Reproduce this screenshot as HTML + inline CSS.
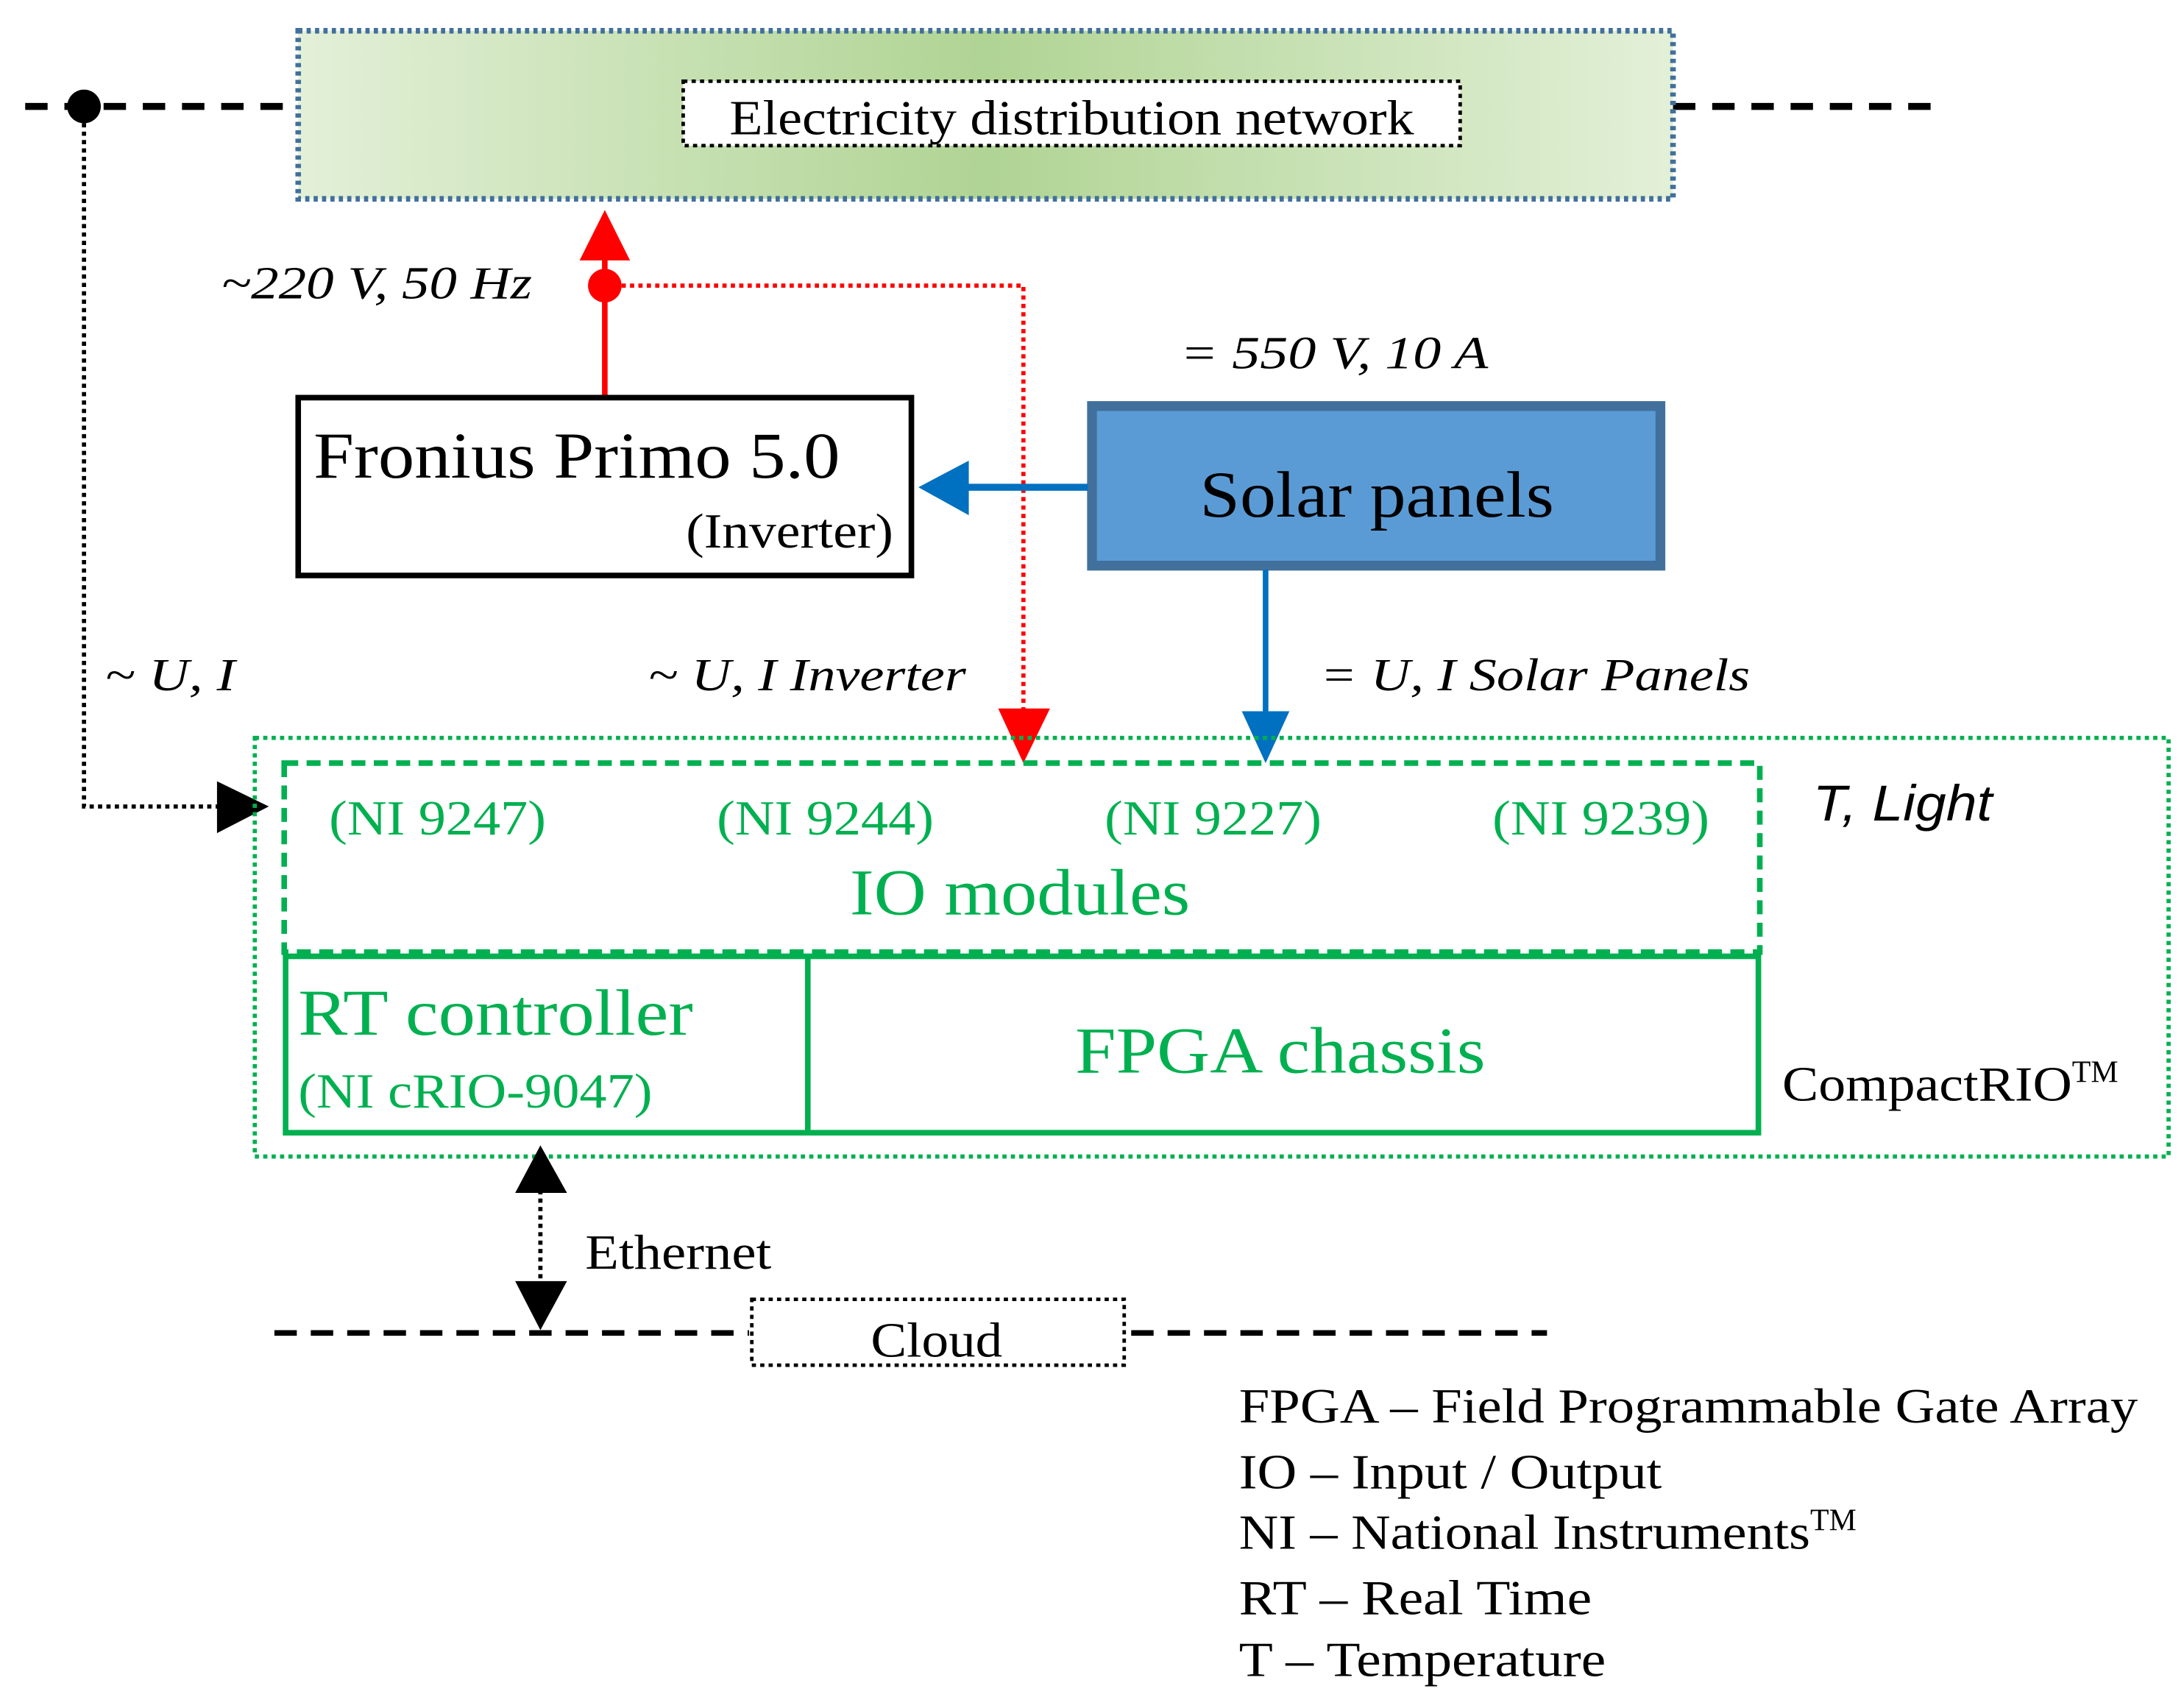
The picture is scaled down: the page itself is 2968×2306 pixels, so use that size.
<!DOCTYPE html>
<html><head><meta charset="utf-8"><style>
html,body{margin:0;padding:0;background:#fff;}
svg{display:block;}
text{font-family:"Liberation Serif",serif;}
</style></head><body>
<svg width="2968" height="2306" viewBox="0 0 1560 1212" preserveAspectRatio="none" xmlns="http://www.w3.org/2000/svg">
<defs>
<linearGradient id="g" x1="0" x2="1" y1="0" y2="0">
<stop offset="0" stop-color="#e3f0d8"/><stop offset="0.5" stop-color="#b0d494"/><stop offset="1" stop-color="#e3f0d8"/>
</linearGradient>
</defs>
<line x1="18" y1="76" x2="213" y2="76" stroke="#000" stroke-width="5" stroke-dasharray="16,12"/>
<line x1="1195" y1="76" x2="1390" y2="76" stroke="#000" stroke-width="5" stroke-dasharray="16,12"/>
<rect x="213" y="22" width="982" height="120" fill="url(#g)" stroke="#41709c" stroke-width="4" stroke-dasharray="3,3"/>
<rect x="488" y="58" width="555" height="46" fill="#fff" stroke="#000" stroke-width="2.5" stroke-dasharray="3,3"/>
<text x="521" y="96" font-size="35" textLength="489" lengthAdjust="spacingAndGlyphs">Electricity distribution network</text>
<circle cx="60" cy="76" r="12" fill="#000"/>
<polyline points="60,76 60,576 160,576" fill="none" stroke="#000" stroke-width="3" stroke-dasharray="3,3"/>
<polygon points="155,558 192,576 155,595" fill="#000"/>
<line x1="432" y1="283" x2="432" y2="182" stroke="#f00" stroke-width="4"/>
<polygon points="414,186 432,150 450,186" fill="#f00"/>
<circle cx="432" cy="204" r="12" fill="#f00"/>
<polyline points="432,204 731,204 731,510" fill="none" stroke="#f00" stroke-width="3" stroke-dasharray="3,3"/>
<polygon points="713,506 750,506 731,545" fill="#f00"/>
<text x="158" y="213" font-size="33" font-style="italic" textLength="222" lengthAdjust="spacingAndGlyphs">~220 V, 50 Hz</text>
<rect x="213" y="284" width="438" height="127" fill="#fff" stroke="#000" stroke-width="4"/>
<text x="224" y="341" font-size="47" textLength="376" lengthAdjust="spacingAndGlyphs">Fronius Primo 5.0</text>
<text x="490" y="391" font-size="35" textLength="148" lengthAdjust="spacingAndGlyphs">(Inverter)</text>
<rect x="780" y="290" width="406" height="114" fill="#5b9bd5" stroke="#41709c" stroke-width="7"/>
<text x="857" y="369" font-size="47" textLength="253" lengthAdjust="spacingAndGlyphs">Solar panels</text>
<line x1="777" y1="348" x2="688" y2="348" stroke="#0070c0" stroke-width="5"/>
<polygon points="692,329 656,348 692,368" fill="#0070c0"/>
<text x="843" y="263" font-size="33" font-style="italic" textLength="220" lengthAdjust="spacingAndGlyphs">= 550 V, 10 A</text>
<line x1="904" y1="407" x2="904" y2="512" stroke="#0070c0" stroke-width="4"/>
<polygon points="887,508 921,508 904,545" fill="#0070c0"/>
<text x="75" y="493" font-size="33" font-style="italic" textLength="93" lengthAdjust="spacingAndGlyphs">~ U, I</text>
<text x="463" y="493" font-size="33" font-style="italic" textLength="227" lengthAdjust="spacingAndGlyphs">~ U, I Inverter</text>
<text x="943" y="493" font-size="33" font-style="italic" textLength="307" lengthAdjust="spacingAndGlyphs">= U, I Solar Panels</text>
<rect x="182" y="527" width="1367" height="299" fill="none" stroke="#00b050" stroke-width="3" stroke-dasharray="3,3"/>
<rect x="203" y="545" width="1054" height="135" fill="none" stroke="#00b050" stroke-width="4" stroke-dasharray="10,6"/>
<g fill="#00b050" font-size="35">
<text x="235" y="596" textLength="155" lengthAdjust="spacingAndGlyphs">(NI 9247)</text>
<text x="512" y="596" textLength="155" lengthAdjust="spacingAndGlyphs">(NI 9244)</text>
<text x="789" y="596" textLength="155" lengthAdjust="spacingAndGlyphs">(NI 9227)</text>
<text x="1066" y="596" textLength="155" lengthAdjust="spacingAndGlyphs">(NI 9239)</text>
<text x="607" y="653" font-size="47" textLength="243" lengthAdjust="spacingAndGlyphs">IO modules</text>
<text x="213" y="739" font-size="47" textLength="282" lengthAdjust="spacingAndGlyphs">RT controller</text>
<text x="213" y="791" textLength="253" lengthAdjust="spacingAndGlyphs">(NI cRIO-9047)</text>
<text x="768" y="766" font-size="47" textLength="293" lengthAdjust="spacingAndGlyphs">FPGA chassis</text>
</g>
<rect x="204" y="683" width="1052" height="126" fill="none" stroke="#00b050" stroke-width="4"/>
<line x1="577" y1="683" x2="577" y2="809" stroke="#00b050" stroke-width="4"/>
<text x="1295" y="586" font-size="36" font-style="italic" style="font-family:'Liberation Sans',sans-serif" textLength="128" lengthAdjust="spacingAndGlyphs">T, Light</text>
<text x="1273" y="786" font-size="35"><tspan textLength="207" lengthAdjust="spacingAndGlyphs">CompactRIO</tspan><tspan font-size="22" dy="-13">TM</tspan></text>
<line x1="386" y1="850" x2="386" y2="918" stroke="#000" stroke-width="3" stroke-dasharray="3,3"/>
<polygon points="368,852 386,818 405,852" fill="#000"/>
<polygon points="368,915 405,915 386,950" fill="#000"/>
<text x="418" y="906" font-size="35" textLength="133" lengthAdjust="spacingAndGlyphs">Ethernet</text>
<line x1="196" y1="952" x2="535" y2="952" stroke="#000" stroke-width="4" stroke-dasharray="16,10"/>
<line x1="808" y1="952" x2="1105" y2="952" stroke="#000" stroke-width="4" stroke-dasharray="16,10"/>
<rect x="537" y="928" width="266" height="47" fill="#fff" stroke="#000" stroke-width="2.5" stroke-dasharray="3,3"/>
<text x="622" y="969" font-size="35" textLength="94" lengthAdjust="spacingAndGlyphs">Cloud</text>
<g font-size="35">
<text x="885" y="1016" textLength="642" lengthAdjust="spacingAndGlyphs">FPGA – Field Programmable Gate Array</text>
<text x="885" y="1063" textLength="302" lengthAdjust="spacingAndGlyphs">IO – Input / Output</text>
<text x="885" y="1106"><tspan textLength="408" lengthAdjust="spacingAndGlyphs">NI – National Instruments</tspan><tspan font-size="22" dy="-13">TM</tspan></text>
<text x="885" y="1153" textLength="252" lengthAdjust="spacingAndGlyphs">RT – Real Time</text>
<text x="885" y="1197" textLength="262" lengthAdjust="spacingAndGlyphs">T – Temperature</text>
</g>
</svg>
</body></html>
